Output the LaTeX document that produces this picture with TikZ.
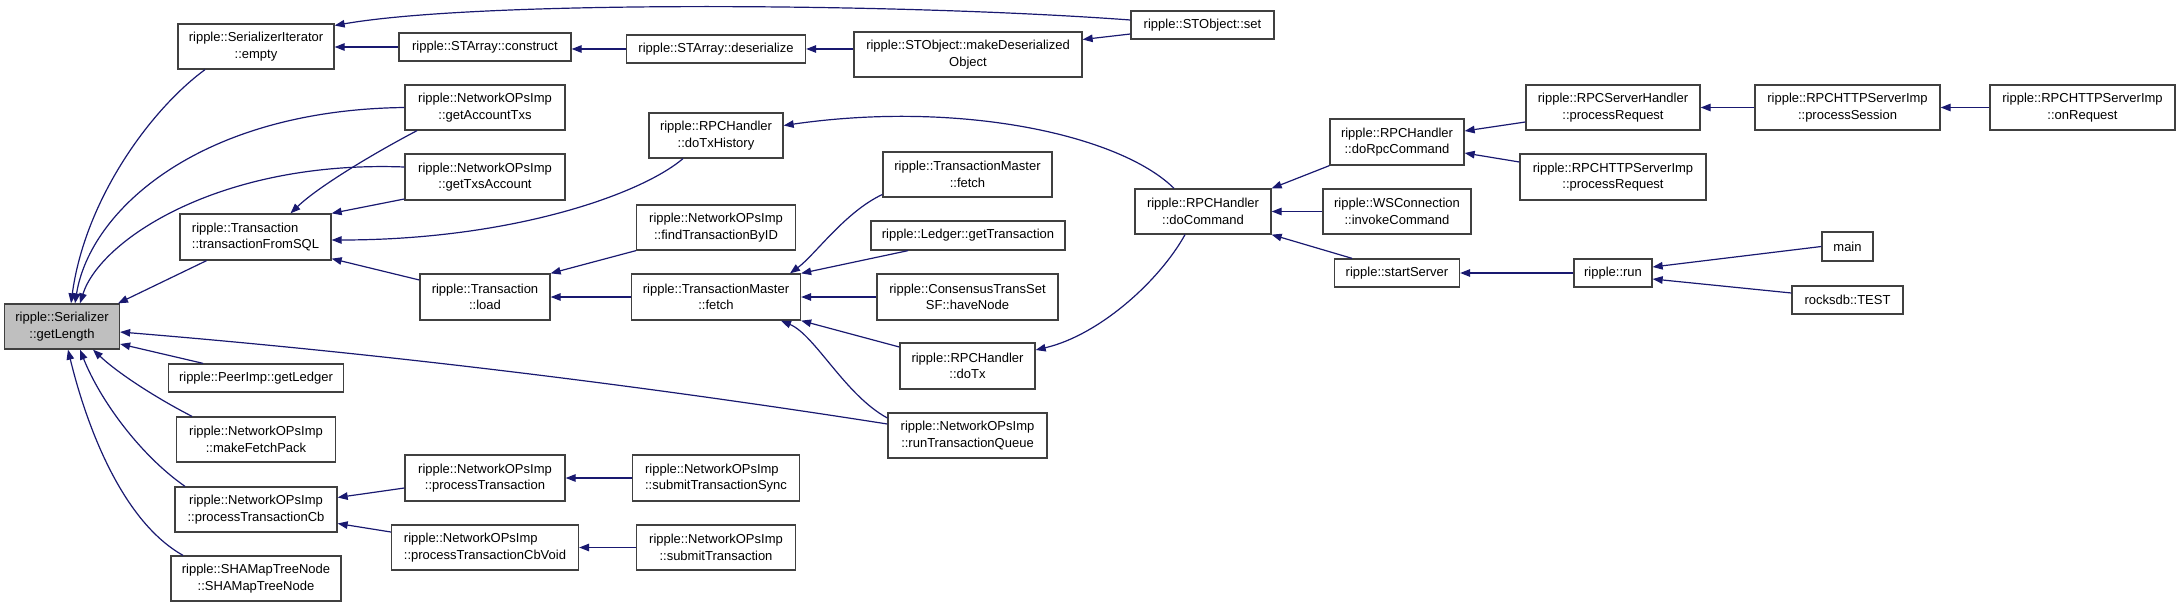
\documentclass[tikz,border=0pt]{standalone}
\usepackage{fontspec}
\setmainfont{Liberation Sans}
\usetikzlibrary{arrows.meta}
\definecolor{mblue}{RGB}{25,25,112}
\definecolor{bordc}{RGB}{64,64,64}
\definecolor{hilite}{RGB}{191,191,191}
\tikzset{
  fn/.style={draw=bordc, line width=1.3pt, fill=white, inner xsep=2pt, inner ysep=0pt,
    align=center, font=\fontsize{13}{16.7}\selectfont},
  sz/.style 2 args={minimum width=#1pt, minimum height=#2pt},
  edge/.style={draw=mblue, line width=1.2pt, -{Triangle[length=10pt,width=7.5pt]}},
}
\begin{document}
\begin{tikzpicture}[x=1pt,y=-1pt]
\useasboundingbox (0,0) rectangle (2181,607);
% column 0
\node[fn, fill=hilite, sz={115}{45}] (getLength) at (62,326.5) {ripple::Serializer\\::getLength};
% column 1
\node[fn, sz={156}{45}] (empty) at (256,46.5) {ripple::SerializerIterator\\::empty};
\node[fn, sz={151}{46}, align=left] (tfs) at (255.5,237) {ripple::Transaction\\::transactionFromSQL};
\node[fn, sz={175}{28}] (peer) at (256,378) {ripple::PeerImp::getLedger};
\node[fn, sz={159}{45}] (mfp) at (256,439.5) {ripple::NetworkOPsImp\\::makeFetchPack};
\node[fn, sz={162}{45}] (ptcb) at (256,509.5) {ripple::NetworkOPsImp\\::processTransactionCb};
\node[fn, sz={170}{45}] (shamap) at (256,578.5) {ripple::SHAMapTreeNode\\::SHAMapTreeNode};
% column 2
\node[fn, sz={172}{28}] (construct) at (485,47) {ripple::STArray::construct};
\node[fn, sz={160}{45}] (gat) at (485,107.5) {ripple::NetworkOPsImp\\::getAccountTxs};
\node[fn, sz={160}{46}] (gta) at (485,177) {ripple::NetworkOPsImp\\::getTxsAccount};
\node[fn, sz={130}{46}] (load) at (485,297) {ripple::Transaction\\::load};
\node[fn, sz={160}{46}] (pt) at (485,478) {ripple::NetworkOPsImp\\::processTransaction};
\node[fn, sz={187}{45}, align=left] (ptcbv) at (485,547.5) {ripple::NetworkOPsImp\\::processTransactionCbVoid};
% column 3
\node[fn, sz={179}{28}] (deser) at (716,49) {ripple::STArray::deserialize};
\node[fn, sz={134}{45}] (dth) at (716,135.5) {ripple::RPCHandler\\::doTxHistory};
\node[fn, sz={159}{45}] (findtx) at (716,227.5) {ripple::NetworkOPsImp\\::findTransactionByID};
\node[fn, sz={169}{46}] (tmf) at (716,297) {ripple::TransactionMaster\\::fetch};
\node[fn, sz={167}{46}, align=left] (sts) at (716,478) {ripple::NetworkOPsImp\\::submitTransactionSync};
\node[fn, sz={159}{45}] (st) at (716,547.5) {ripple::NetworkOPsImp\\::submitTransaction};
% column 4
\node[fn, sz={228}{45}] (mdo) at (968,54.5) {ripple::STObject::makeDeserialized\\Object};
\node[fn, sz={169}{45}] (tmf2) at (967.5,174.5) {ripple::TransactionMaster\\::fetch};
\node[fn, sz={194}{29}] (ledger) at (968,235.5) {ripple::Ledger::getTransaction};
\node[fn, sz={181}{46}] (havenode) at (967.5,297) {ripple::ConsensusTransSet\\SF::haveNode};
\node[fn, sz={135}{46}] (dotx) at (967.5,366) {ripple::RPCHandler\\::doTx};
\node[fn, sz={159}{45}] (rtq) at (967.5,435.5) {ripple::NetworkOPsImp\\::runTransactionQueue};
% column 5
\node[fn, sz={143}{28}] (set) at (1202.5,25) {ripple::STObject::set};
\node[fn, sz={136}{45}] (docmd) at (1203,211.5) {ripple::RPCHandler\\::doCommand};
% column 6
\node[fn, sz={134}{46}] (dorpc) at (1397,142) {ripple::RPCHandler\\::doRpcCommand};
\node[fn, sz={148}{45}] (invoke) at (1397,211.5) {ripple::WSConnection\\::invokeCommand};
\node[fn, sz={125}{28}] (startsrv) at (1397,273) {ripple::startServer};
% column 7
\node[fn, sz={174}{45}] (rsh) at (1613,107.5) {ripple::RPCServerHandler\\::processRequest};
\node[fn, sz={186}{46}] (rhttp) at (1613,177) {ripple::RPCHTTPServerImp\\::processRequest};
\node[fn, sz={78}{28}] (run) at (1613,273) {ripple::run};
% column 8
\node[fn, sz={185}{45}] (session) at (1847.5,107.5) {ripple::RPCHTTPServerImp\\::processSession};
\node[fn, sz={51}{29}] (main) at (1847.5,246.5) {main};
\node[fn, sz={111}{28}] (test) at (1847.5,300) {rocksdb::TEST};
% column 9
\node[fn, sz={185}{45}] (onreq) at (2082.5,107.5) {ripple::RPCHTTPServerImp\\::onRequest};

% edges (caller -> callee, arrow at callee)
\draw[edge] ([xshift=-51pt]empty.south) .. controls (150,110) and (85,200) .. ([xshift=9pt]getLength.north);
\draw[edge] (construct.west) -- (empty.east |- construct.west);
\draw[edge] (deser.west) -- (construct.east |- deser.west);
\draw[edge] (mdo.west |- deser.east) -- (deser.east);
\draw[edge] ([yshift=-9pt]set.west) -- ([yshift=15pt]mdo.east);
\draw[edge] ([yshift=5pt]set.west) .. controls (900,3) and (480,0) .. ([yshift=21pt]empty.east);
\draw[edge] (gat.west) .. controls (200,110) and (90,210) .. ([xshift=13pt]getLength.north);
\draw[edge] ([xshift=-68pt]gat.south) .. controls (380,150) and (320,185) .. ([xshift=35pt]tfs.north);
\draw[edge] ([yshift=10pt]gta.west) .. controls (220,160) and (100,240) .. ([xshift=18pt]getLength.north);
\draw[edge] ([yshift=-22pt]gta.west) -- (tfs.north east);
\draw[edge] ([xshift=-33pt]dth.south) .. controls (640,195) and (510,240) .. ([yshift=-3pt]tfs.east);
\draw[edge] ([xshift=-49pt]tfs.south) -- ([xshift=56pt]getLength.north);
\draw[edge] ([yshift=17pt]load.west) -- ([yshift=2pt]tfs.south east);
\draw[edge] (findtx.south west) -- (load.north east);
\draw[edge] (tmf.west) -- (load.east);
\draw[edge] ([yshift=-20pt]tmf2.west) .. controls (845,212) and (815,255) .. ([xshift=74pt]tmf.north);
\draw[edge] ([xshift=-60pt]ledger.south) -- (tmf.north east);
\draw[edge] (havenode.west) -- (tmf.east);
\draw[edge] ([yshift=19pt]dotx.west) -- (tmf.south east);
\draw[edge] ([yshift=17.5pt]rtq.west) .. controls (845,395) and (815,335) .. ([xshift=65pt]tmf.south);
\draw[edge] ([yshift=11.5pt]rtq.west) .. controls (632,384) and (376,353) .. ([yshift=-5.5pt]getLength.east);
\draw[edge] ([xshift=-29pt]docmd.north) .. controls (1120,135) and (960,100) .. ([yshift=10pt]dth.east);
\draw[edge] ([xshift=-18pt]docmd.south) .. controls (1160,280) and (1100,335) .. ([yshift=16pt]dotx.east);
\draw[edge] (dorpc.south west) -- (docmd.north east);
\draw[edge] (invoke.west) -- (docmd.east);
\draw[edge] ([xshift=-45pt]startsrv.north) -- (docmd.south east);
\draw[edge] ([yshift=-14.5pt]rsh.west) -- ([yshift=11pt]dorpc.east);
\draw[edge] ([yshift=15pt]rhttp.west) -- ([yshift=-11pt]dorpc.east);
\draw[edge] (session.west) -- (rsh.east);
\draw[edge] (onreq.west) -- (session.east);
\draw[edge] (run.west) -- (startsrv.east);
\draw[edge] (main.west) -- ([yshift=6pt]run.east);
\draw[edge] ([yshift=7pt]test.west) -- ([yshift=-6pt]run.east);
\draw[edge] ([xshift=-53pt]peer.north) -- ([yshift=-17.5pt]getLength.east);
\draw[edge] ([xshift=-64pt]mfp.north) .. controls (160,400) and (120,375) .. ([xshift=31pt]getLength.south);
\draw[edge] ([xshift=-71pt]ptcb.north) .. controls (140,455) and (100,400) .. ([xshift=18pt]getLength.south);
\draw[edge] ([xshift=-73pt]shamap.north) .. controls (120,520) and (85,420) .. ([xshift=6pt]getLength.south);
\draw[edge] ([yshift=-10pt]pt.west) -- ([yshift=12pt]ptcb.east);
\draw[edge] ([yshift=15.5pt]ptcbv.west) -- ([yshift=-14pt]ptcb.east);
\draw[edge] (sts.west) -- (pt.east);
\draw[edge] (st.west) -- (ptcbv.east);
\end{tikzpicture}
\end{document}
